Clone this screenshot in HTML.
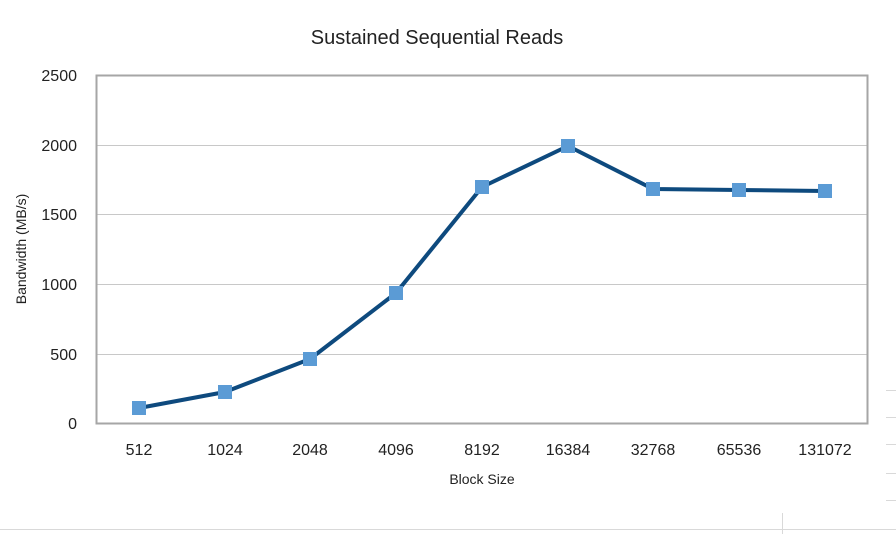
<!DOCTYPE html>
<html><head><meta charset="utf-8"><style>
body{margin:0;background:#fff}
svg text{font-family:"Liberation Sans",sans-serif;fill:#222}
</style></head><body>
<svg width="896" height="534" xmlns="http://www.w3.org/2000/svg">
<rect width="896" height="534" fill="#fff"/>
<g stroke="#d9d9d9" stroke-width="1">
<line x1="0" y1="529.5" x2="896" y2="529.5"/>
<line x1="782.5" y1="513" x2="782.5" y2="534"/>
<line x1="886" y1="390.5" x2="896" y2="390.5"/>
<line x1="886" y1="417.5" x2="896" y2="417.5"/>
<line x1="886" y1="444.5" x2="896" y2="444.5"/>
<line x1="886" y1="473.5" x2="896" y2="473.5"/>
<line x1="886" y1="500.5" x2="896" y2="500.5"/>
</g>
<text x="437" y="44" font-size="20" text-anchor="middle">Sustained Sequential Reads</text>
<g stroke="#c8c8c8" stroke-width="1">
<line x1="96" y1="145.5" x2="868" y2="145.5"/>
<line x1="96" y1="214.5" x2="868" y2="214.5"/>
<line x1="96" y1="284.5" x2="868" y2="284.5"/>
<line x1="96" y1="354.5" x2="868" y2="354.5"/>
</g>
<rect x="96.5" y="75.5" width="771" height="348" fill="none" stroke="#a6a6a6" stroke-width="2"/>
<g font-size="16" text-anchor="end">
<text x="77" y="81">2500</text><text x="77" y="151">2000</text><text x="77" y="220">1500</text>
<text x="77" y="290">1000</text><text x="77" y="360">500</text><text x="77" y="429">0</text>
</g>
<g font-size="16" text-anchor="middle">
<text x="139" y="455">512</text><text x="225" y="455">1024</text><text x="310" y="455">2048</text>
<text x="396" y="455">4096</text><text x="482" y="455">8192</text><text x="568" y="455">16384</text>
<text x="653" y="455">32768</text><text x="739" y="455">65536</text><text x="825" y="455">131072</text>
</g>
<text x="482" y="484" font-size="14" text-anchor="middle">Block Size</text>
<text transform="translate(26,249) rotate(-90)" font-size="14" text-anchor="middle">Bandwidth (MB/s)</text>
<polyline fill="none" stroke="#0e4a7e" stroke-width="4" stroke-linejoin="round"
 points="139,408 225,392 310,359 396,293 482,187 568,146 653,189 739,190 825,191"/>
<g fill="#5b9bd5">
<rect x="132" y="401" width="14" height="14"/><rect x="218" y="385" width="14" height="14"/>
<rect x="303" y="352" width="14" height="14"/><rect x="389" y="286" width="14" height="14"/>
<rect x="475" y="180" width="14" height="14"/><rect x="561" y="139" width="14" height="14"/>
<rect x="646" y="182" width="14" height="14"/><rect x="732" y="183" width="14" height="14"/>
<rect x="818" y="184" width="14" height="14"/>
</g>
</svg>
</body></html>
